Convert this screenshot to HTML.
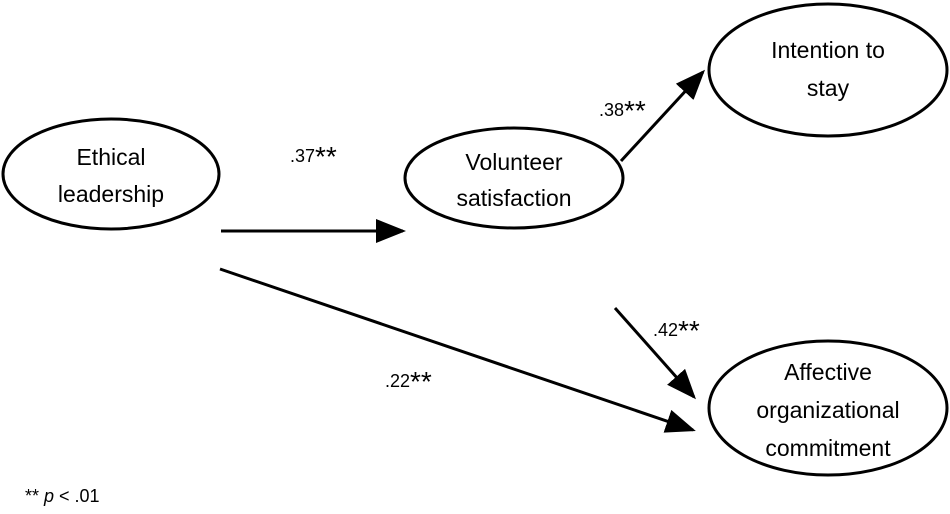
<!DOCTYPE html>
<html><head><meta charset="utf-8"><style>
html,body{margin:0;padding:0;background:#fff;}
svg{display:block;}
text{font-family:"Liberation Sans","DejaVu Sans",sans-serif;fill:#000;}
</style></head><body>
<svg width="950" height="514" viewBox="0 0 950 514" xmlns="http://www.w3.org/2000/svg">
<defs>
<marker id="a" markerWidth="10" markerHeight="8" refX="9" refY="4" orient="auto" markerUnits="strokeWidth">
<path d="M0,0 L10,4 L0,8 z" fill="#000"/>
</marker>
</defs>
<g fill="none" stroke="#000" stroke-width="3">
<ellipse cx="111" cy="174" rx="108" ry="55"/>
<ellipse cx="514" cy="178" rx="109" ry="50"/>
<ellipse cx="828" cy="70" rx="119" ry="66"/>
<ellipse cx="828" cy="408" rx="119" ry="67"/>
</g>
<g stroke="#000" stroke-width="3" fill="none">
<line x1="221" y1="231" x2="403" y2="231" marker-end="url(#a)"/>
<line x1="621" y1="161" x2="703" y2="72" marker-end="url(#a)"/>
<line x1="615" y1="308" x2="694" y2="397" marker-end="url(#a)"/>
<line x1="220" y1="269" x2="693" y2="430" marker-end="url(#a)"/>
</g>
<g font-size="23" text-anchor="middle">
<text x="111" y="165">Ethical</text>
<text x="111" y="202">leadership</text>
<text x="514" y="170">Volunteer</text>
<text x="514" y="206">satisfaction</text>
<text x="828" y="58">Intention to</text>
<text x="828" y="96">stay</text>
<text x="828" y="380">Affective</text>
<text x="828" y="418">organizational</text>
<text x="828" y="456">commitment</text>
</g>
<g font-size="18">
<text x="290" y="162">.37<tspan font-size="28" dy="4">**</tspan></text>
<text x="599" y="116">.38<tspan font-size="28" dy="4">**</tspan></text>
<text x="653" y="336">.42<tspan font-size="28" dy="4">**</tspan></text>
<text x="385" y="387">.22<tspan font-size="28" dy="4">**</tspan></text>
<text x="25" y="502">** <tspan font-style="italic">p</tspan> &lt; .01</text>
</g>
</svg>
</body></html>
